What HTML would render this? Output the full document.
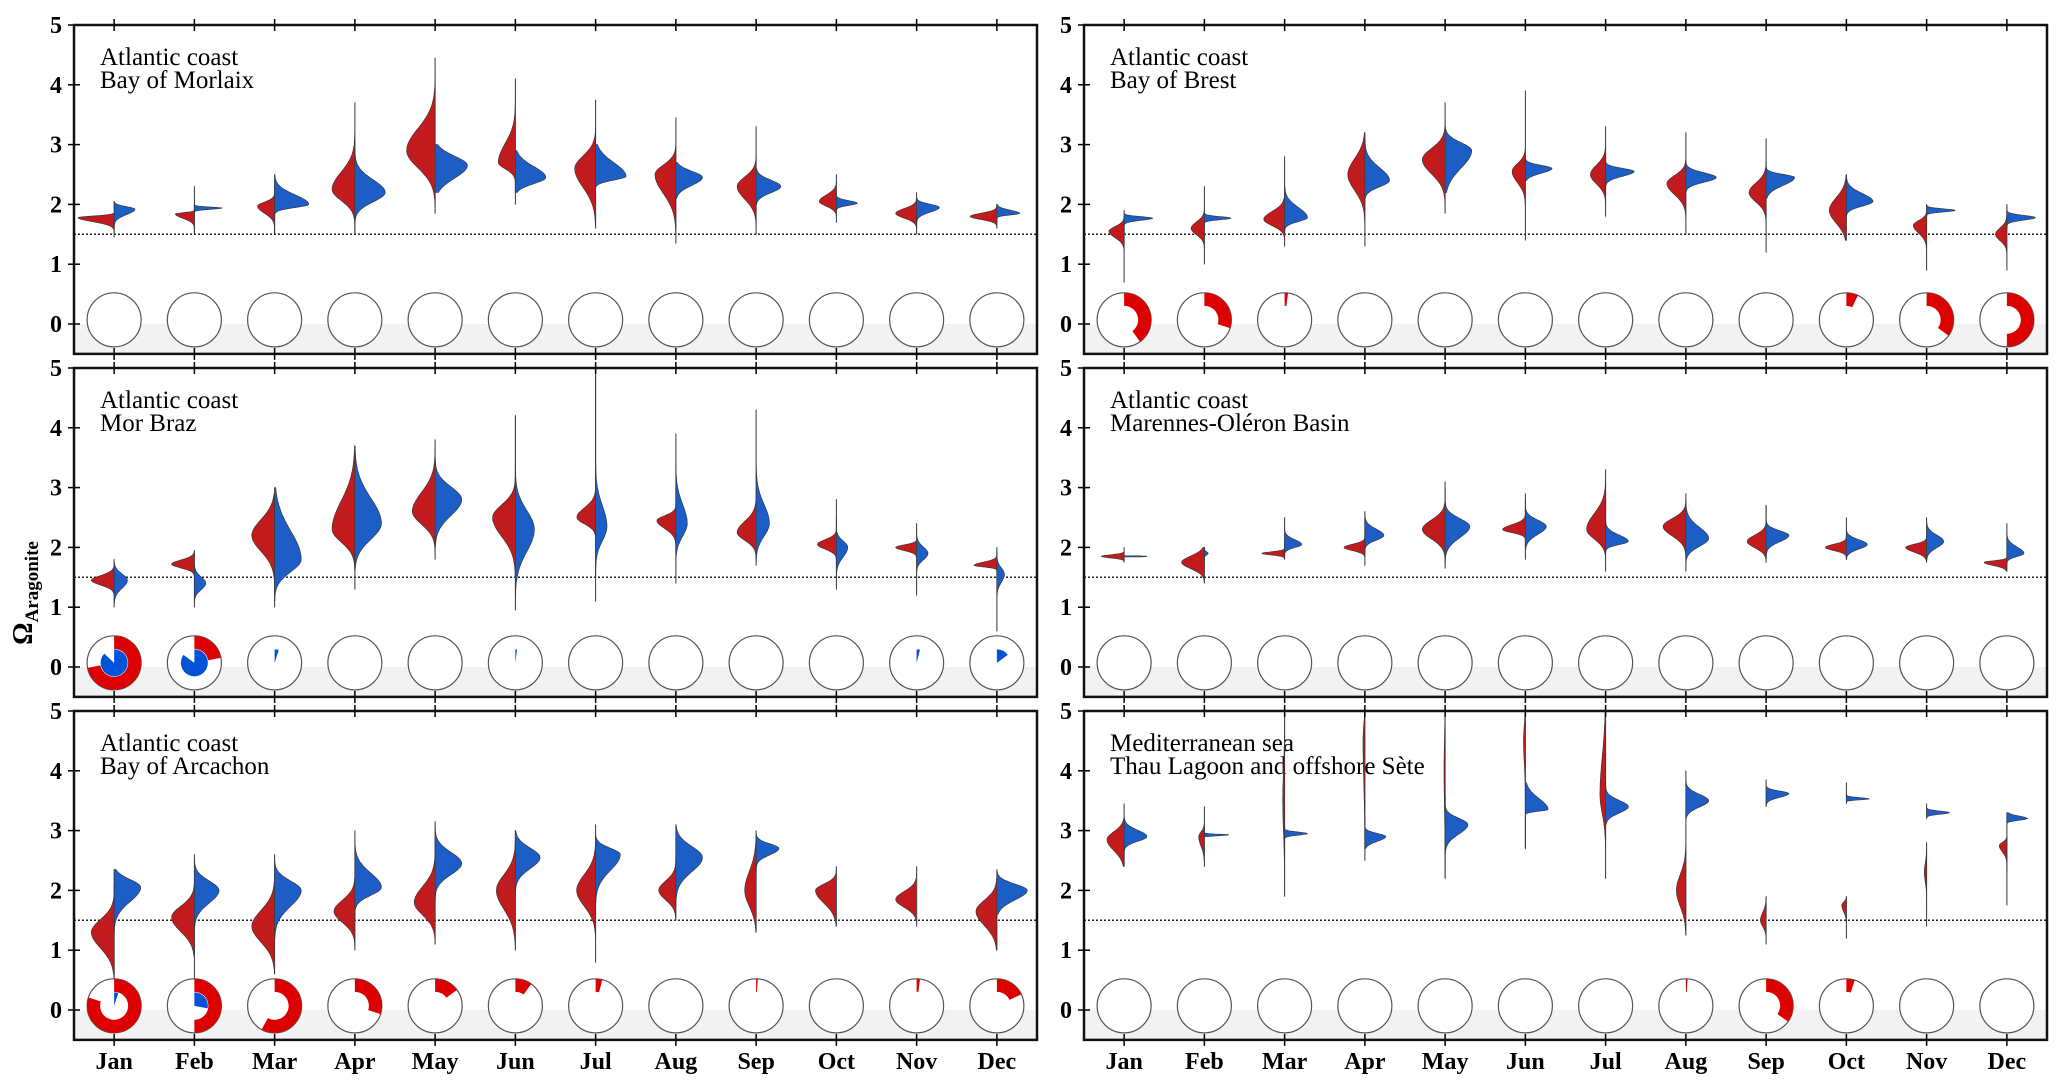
<!DOCTYPE html>
<html><head><meta charset="utf-8"><style>
html,body{margin:0;padding:0;background:#fff;}
svg{display:block;}
text{font-family:"Liberation Serif",serif;}
</style></head><body>
<svg id="chart" width="2067" height="1091" viewBox="0 0 2067 1091" xmlns="http://www.w3.org/2000/svg"></svg>
<script>
const months = ["Jan","Feb","Mar","Apr","May","Jun","Jul","Aug","Sep","Oct","Nov","Dec"];
const yTicks = [0,1,2,3,4,5];
const threshold = 1.5;
const panelTitles = [
 ["Atlantic coast","Bay of Morlaix"],["Atlantic coast","Bay of Brest"],
 ["Atlantic coast","Mor Braz"],["Atlantic coast","Marennes-Oléron Basin"],
 ["Atlantic coast","Bay of Arcachon"],["Mediterranean sea","Thau Lagoon and offshore Sète"]];
// each half violin: [min, max, low, mode, high, relWidth]
const redMorlaix=[[1.45,1.85,1.65,1.78,1.83,.95],[1.5,2.0,1.7,1.84,1.88,.5],[1.5,2.3,1.75,1.97,2.1,.45],[1.5,3.7,1.9,2.25,2.8,.6],[1.85,4.45,2.35,2.9,3.6,.75],[2.0,4.1,2.5,2.7,3.3,.45],[1.6,3.75,2.0,2.6,3.0,.55],[1.35,3.45,1.9,2.5,2.8,.55],[1.5,3.3,1.9,2.3,2.6,.5],[1.7,2.5,1.9,2.05,2.25,.45],[1.5,2.1,1.7,1.85,2.0,.55],[1.6,2.0,1.7,1.8,1.9,.7]];
const blueMorlaix=[[1.5,2.05,1.75,1.92,2.0,.55],[1.5,2.3,1.9,1.94,1.97,.75],[1.5,2.5,1.9,2.0,2.3,.9],[1.5,3.0,1.9,2.2,2.6,.8],[2.2,3.0,2.25,2.65,2.95,.85],[2.2,2.9,2.25,2.45,2.8,.8],[2.3,3.0,2.35,2.47,2.9,.8],[2.1,2.7,2.2,2.45,2.65,.7],[2.0,2.6,2.1,2.3,2.5,.65],[1.9,2.2,1.95,2.02,2.1,.55],[1.6,2.2,1.8,1.95,2.05,.6],[1.7,2.0,1.8,1.85,1.95,.6]];
const redBrest=[[0.7,1.8,1.35,1.55,1.7,.4],[1.0,2.3,1.4,1.6,1.8,.35],[1.3,2.8,1.55,1.75,2.0,.55],[1.3,3.2,2.0,2.5,3.0,.45],[1.85,3.7,2.3,2.75,3.1,.6],[1.4,3.9,2.2,2.55,2.8,.35],[1.8,3.3,2.2,2.5,2.8,.4],[1.5,3.2,2.0,2.35,2.6,.5],[1.2,3.1,1.9,2.2,2.5,.45],[1.4,2.5,1.5,1.9,2.3,.45],[0.9,2.0,1.4,1.65,1.8,.35],[0.9,2.0,1.3,1.5,1.7,.3]];
const blueBrest=[[1.5,1.9,1.7,1.77,1.82,.75],[1.6,1.85,1.72,1.77,1.82,.7],[1.5,2.3,1.65,1.78,2.1,.6],[2.0,3.1,2.2,2.4,2.8,.65],[2.2,3.3,2.35,2.9,3.15,.7],[2.4,2.8,2.45,2.6,2.7,.7],[2.3,2.8,2.4,2.55,2.65,.75],[2.2,2.7,2.3,2.45,2.6,.8],[2.1,2.7,2.2,2.45,2.55,.75],[1.8,2.5,1.9,2.05,2.3,.7],[1.8,2.0,1.85,1.9,1.95,.75],[1.6,1.95,1.7,1.78,1.85,.75]];
const redMorBraz=[[1.2,1.8,1.3,1.45,1.6,.6],[1.5,1.95,1.6,1.72,1.85,.6],[1.1,2.9,1.7,2.2,2.7,.6],[1.3,3.7,1.9,2.3,3.2,.6],[1.8,3.8,2.2,2.6,3.2,.6],[1.5,4.2,1.9,2.5,2.9,.6],[1.1,4.9,2.3,2.5,2.8,.5],[1.9,3.0,2.2,2.45,2.6,.5],[1.8,2.9,2.0,2.25,2.6,.5],[1.7,2.8,1.9,2.05,2.2,.5],[1.8,2.1,1.9,2.0,2.08,.55],[1.6,1.95,1.65,1.7,1.8,.6]];
const blueMorBraz=[[1.0,1.75,1.2,1.45,1.65,.35],[1.0,1.7,1.2,1.4,1.6,.3],[1.0,3.0,1.4,1.8,2.7,.7],[1.6,3.7,1.9,2.4,3.2,.7],[2.0,3.5,2.3,2.8,3.2,.7],[0.95,4.2,1.6,2.3,2.9,.5],[1.5,5.0,1.9,2.35,3.0,.3],[1.4,3.9,2.0,2.4,3.0,.3],[1.7,4.3,2.0,2.4,3.0,.35],[1.3,2.5,1.7,2.0,2.2,.3],[1.2,2.4,1.7,1.9,2.1,.3],[0.6,2.0,1.3,1.55,1.75,.2]];
const redMarennes=[[1.75,2.0,1.8,1.85,1.9,.6],[1.4,2.0,1.55,1.75,1.95,.6],[1.8,2.1,1.85,1.9,1.95,.6],[1.7,2.5,1.9,2.0,2.1,.55],[1.75,3.0,2.0,2.3,2.6,.6],[2.0,2.8,2.2,2.3,2.45,.6],[1.6,3.3,2.0,2.3,2.8,.5],[1.8,2.9,2.05,2.35,2.6,.6],[1.75,2.7,1.9,2.1,2.3,.5],[1.8,2.2,1.9,2.0,2.1,.55],[1.75,2.2,1.85,2.0,2.1,.55],[1.6,1.85,1.65,1.75,1.8,.6]];
const blueMarennes=[[1.84,1.86,1.845,1.85,1.855,.6],[1.8,2.0,1.85,1.9,1.95,.1],[1.9,2.5,1.95,2.05,2.2,.45],[1.9,2.6,2.05,2.2,2.4,.5],[1.65,3.1,2.0,2.35,2.6,.65],[1.8,2.9,2.1,2.35,2.55,.55],[1.9,2.8,2.0,2.1,2.3,.6],[1.6,2.8,1.9,2.15,2.5,.6],[1.8,2.7,2.0,2.2,2.35,.6],[1.8,2.5,1.9,2.05,2.2,.55],[1.8,2.5,1.9,2.1,2.3,.45],[1.7,2.4,1.8,1.9,2.1,.45]];
const redArcachon=[[0.5,2.1,0.8,1.3,1.7,.6],[0.9,2.1,1.1,1.55,1.9,.6],[0.6,2.3,0.9,1.4,1.9,.6],[1.0,2.2,1.3,1.65,2.0,.55],[1.1,2.9,1.4,1.8,2.3,.55],[1.0,3.0,1.4,2.0,2.5,.5],[0.8,3.1,1.5,2.0,2.5,.5],[1.5,2.6,1.7,2.0,2.3,.45],[1.3,2.9,1.5,2.0,2.6,.3],[1.4,2.4,1.6,2.0,2.2,.55],[1.4,2.4,1.6,1.85,2.1,.55],[1.0,2.2,1.2,1.65,2.0,.55]];
const blueArcachon=[[0.2,2.35,1.6,2.05,2.3,.7],[0.2,2.6,1.6,2.0,2.3,.65],[1.2,2.6,1.5,2.0,2.3,.7],[1.5,3.0,1.8,2.05,2.5,.7],[1.8,3.15,2.1,2.45,2.8,.7],[1.9,3.0,2.2,2.55,2.85,.65],[1.8,2.9,2.1,2.6,2.8,.65],[1.8,3.1,2.1,2.55,2.9,.7],[2.3,3.0,2.5,2.7,2.85,.6],[1.4,2.4,2.0,2.0,2.0,0],[1.4,2.4,1.9,1.9,1.9,0],[1.6,2.35,1.7,2.0,2.2,.8]];
const redThau=[[2.4,3.2,2.5,2.85,3.1,.45],[2.4,3.1,2.6,2.9,3.05,.15],[1.9,5.0,2.5,3.5,4.5,.05],[2.5,5.0,3.2,4.5,5.0,.05],[2.2,5.0,2.8,4.0,5.0,.03],[2.7,5.0,3.8,4.5,5.0,.05],[2.2,5.0,3.0,3.6,4.8,.15],[1.25,3.3,1.5,2.0,2.5,.25],[1.1,1.9,1.3,1.5,1.75,.15],[1.2,1.9,1.55,1.75,1.85,.12],[1.4,2.8,2.0,2.3,2.6,.06],[2.3,2.9,2.55,2.75,2.85,.2]];
const blueThau=[[2.4,3.45,2.75,2.9,3.1,.6],[2.9,3.4,2.9,2.93,2.95,.65],[2.85,3.1,2.9,2.95,3.0,.6],[2.7,3.2,2.75,2.9,3.0,.55],[2.2,3.6,2.8,3.1,3.3,.6],[2.7,3.8,3.3,3.35,3.7,.6],[3.1,3.8,3.2,3.4,3.6,.6],[3.2,4.0,3.3,3.5,3.7,.6],[3.4,3.85,3.5,3.62,3.7,.6],[3.45,3.8,3.5,3.53,3.57,.6],[3.2,3.45,3.25,3.3,3.35,.6],[1.75,3.3,3.15,3.2,3.28,.55]];
// pie fractions: outer red ring, inner blue disk
const pieRedMorlaix=[0,0,0,0,0,0,0,0,0,0,0,0], pieBlueMorlaix=[0,0,0,0,0,0,0,0,0,0,0,0];
const pieRedBrest=[.4,.3,.02,0,0,0,0,0,0,.07,.35,.5], pieBlueBrest=[0,0,0,0,0,0,0,0,0,0,0,0];
const pieRedMorBraz=[.72,.22,0,0,0,0,0,0,0,0,0,0], pieBlueMorBraz=[.87,.85,.05,0,0,.02,0,0,0,0,.04,.15];
const pieRedMarennes=[0,0,0,0,0,0,0,0,0,0,0,0], pieBlueMarennes=[0,0,0,0,0,0,0,0,0,0,0,0];
const pieRedArcachon=[.8,.5,.58,.3,.15,.1,.04,0,.01,0,.02,.18], pieBlueArcachon=[.05,.28,0,0,0,0,0,0,0,0,0,0];
const pieRedThau=[0,0,0,0,0,0,0,.01,.35,.05,0,0], pieBlueThau=[0,0,0,0,0,0,0,0,0,0,0,0];

const reds=[redMorlaix,redBrest,redMorBraz,redMarennes,redArcachon,redThau];
const blues=[blueMorlaix,blueBrest,blueMorBraz,blueMarennes,blueArcachon,blueThau];
const pieReds=[pieRedMorlaix,pieRedBrest,pieRedMorBraz,pieRedMarennes,pieRedArcachon,pieRedThau];
const pieBlues=[pieBlueMorlaix,pieBlueBrest,pieBlueMorBraz,pieBlueMarennes,pieBlueArcachon,pieBlueThau];

const svg=document.getElementById('chart');
const NS='http://www.w3.org/2000/svg';
function mk(tag,attrs,parent){const e=document.createElementNS(NS,tag);for(const k in attrs)e.setAttribute(k,attrs[k]);(parent||svg).appendChild(e);return e;}
const colX=[74,1084], rowTop=[25,368,711], PW=963, UNIT=59.8;
const PH=UNIT*5.5;

const yt=mk('text',{x:0,y:0,transform:'translate(32,593) rotate(-90)','text-anchor':'middle','font-size':'28','font-weight':'bold'});


yt.innerHTML='Ω<tspan font-size="19" dy="6">Aragonite</tspan>';

for(let p=0;p<6;p++){
  const x0=colX[p%2], top=rowTop[Math.floor(p/2)];
  const xS=i=>x0+(i+0.5)*PW/12;
  const yS=v=>top+(5-v)*UNIT;
  const g=mk('g',{});
  
  
  const band=mk('rect',{x:x0,y:yS(0),width:PW,height:yS(-0.5)-yS(0),fill:'#f2f2f2'},g);
  
  
  const th=mk('line',{x1:x0,x2:x0+PW,y1:yS(threshold),y2:yS(threshold),stroke:'#222','stroke-width':1.5,'stroke-dasharray':'2,2'},g);
  
  
  const t=mk('text',{x:x0+26,y:top+40,'font-size':'25'},g);
  
  
  t.innerHTML='<tspan x="'+(x0+26)+'">'+panelTitles[p][0]+'</tspan><tspan x="'+(x0+26)+'" dy="23">'+panelTitles[p][1]+'</tspan>';
  for(let i=0;i<12;i++){
    const cx=xS(i);
    [[reds[p][i],-1,'#c11b1d'],[blues[p][i],1,'#1c5dc6']].forEach(([d,side,col])=>{
      const [mn,mx,lo,mode,hi,w]=d;
      const ln=mk('line',{x1:cx,x2:cx,y1:yS(Math.min(mx,5)),y2:yS(mn),stroke:'#555','stroke-width':1},g);
      
      
      if(w<=0)return;
      const N=80;let pts=[];
      const sl=Math.max(mode-lo,0.02), sh=Math.max(hi-mode,0.02);
      for(let k=0;k<=N;k++){
        const v=mn+(Math.min(mx,5)-mn)*k/N;
        const s=v<mode?sl:sh;
        const z=(v-mode)/s;
        let f=w*Math.exp(-z*z*1.8);
        pts.push([cx+side*f*38, yS(v)]);
      }
      let dstr='M'+cx+','+yS(mn);
      pts.forEach(q=>dstr+=' L'+q[0].toFixed(1)+','+q[1].toFixed(1));
      dstr+=' L'+cx+','+yS(Math.min(mx,5))+' Z';
      const path=mk('path',{d:dstr,fill:col,stroke:'#333','stroke-width':0.6},g);
      
      
    });
    const py=yS(0.07), R=27, Ri=14;
    const c=mk('circle',{cx:cx,cy:py,r:R,fill:'#fff',stroke:'#555','stroke-width':1.2},g);
    
    
    const fr=pieReds[p][i], fb=pieBlues[p][i];
    if(fr>0){
      const a=fr*2*Math.PI, big=fr>0.5?1:0;
      const ox=cx+R*Math.sin(a), oy=py-R*Math.cos(a), ix=cx+Ri*Math.sin(a), iy=py-Ri*Math.cos(a);
      const d='M'+cx+','+(py-R)+' A'+R+','+R+' 0 '+big+' 1 '+ox+','+oy+' L'+ix+','+iy+' A'+Ri+','+Ri+' 0 '+big+' 0 '+cx+','+(py-Ri)+' Z';
      const rp=mk('path',{d:d,fill:'#dd0000'},g);
      
      
    }
    if(fb>0){
      const Rb=13.5, a=fb*2*Math.PI, big=fb>0.5?1:0;
      const d='M'+cx+','+py+' L'+cx+','+(py-Rb)+' A'+Rb+','+Rb+' 0 '+big+' 1 '+(cx+Rb*Math.sin(a))+','+(py-Rb*Math.cos(a))+' Z';
      const bp=mk('path',{d:d,fill:'#0052d9'},g);
      
      
    }
    [top, top+PH].forEach(yy=>{
      const tk=mk('line',{x1:cx,x2:cx,y1:yy-6,y2:yy+6,stroke:'#000','stroke-width':1.5},g);
      
      
    });
    if(p>=4){
      const ml=mk('text',{x:cx,y:top+PH+29,'text-anchor':'middle','font-size':'24','font-weight':'bold'},g);
      
      
      ml.textContent=months[i];
    }
  }
  yTicks.forEach(v=>{
    const tk=mk('line',{x1:x0-6,x2:x0+6,y1:yS(v),y2:yS(v),stroke:'#000','stroke-width':1.5},g);
    
    
    const tl=mk('text',{x:x0-12,y:yS(v)+8,'text-anchor':'end','font-size':'24','font-weight':'bold'},g);
    
    
    tl.textContent=v;
  });
  const fr=mk('rect',{x:x0,y:top,width:PW,height:PH,fill:'none',stroke:'#111','stroke-width':2.5},g);
  
  
}
</script>
</body></html>
